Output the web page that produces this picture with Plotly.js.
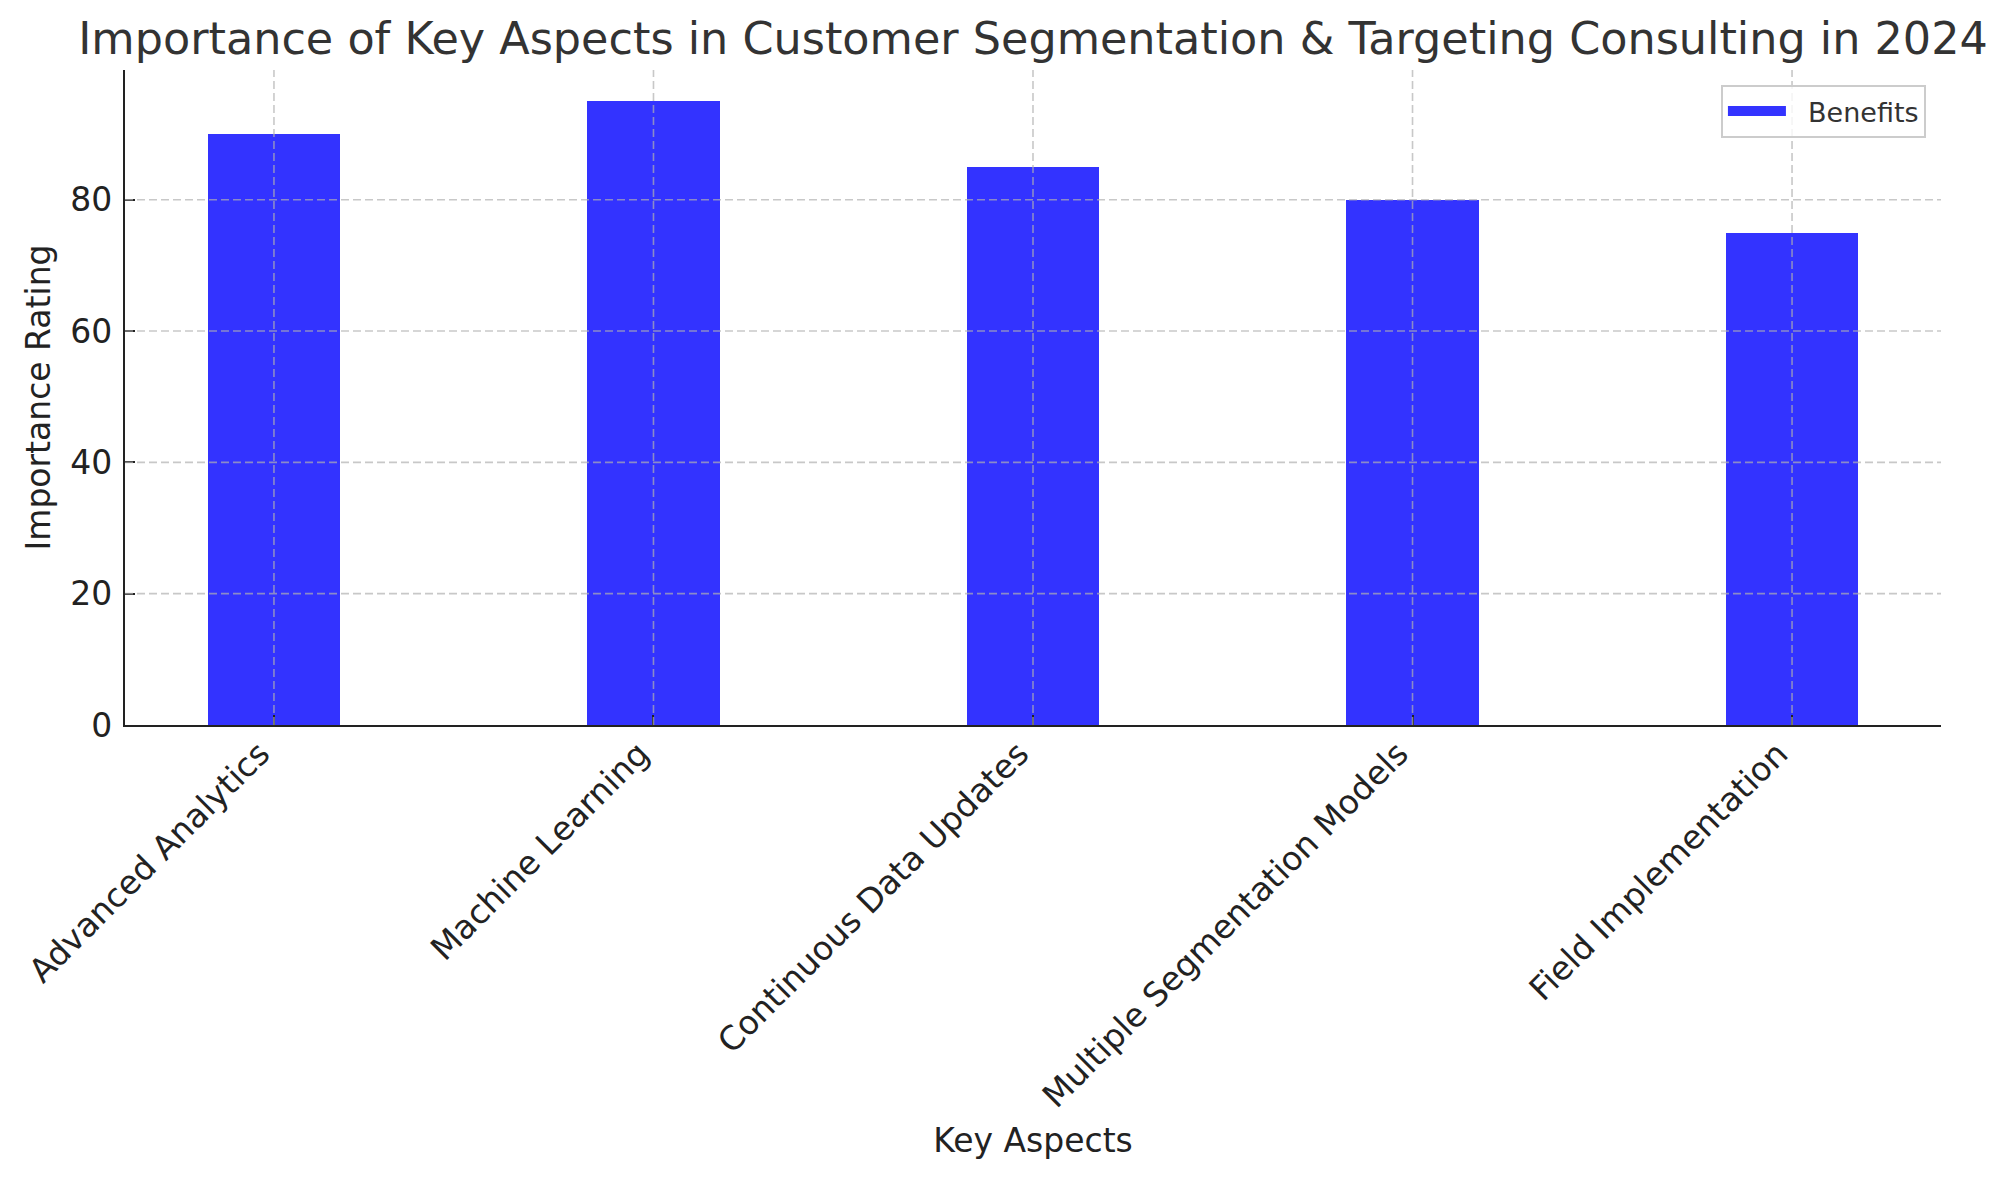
<!DOCTYPE html>
<html>
<head>
<meta charset="utf-8">
<script src="https://cdn.plot.ly/plotly-3.0.1.min.js"></script>
<style>
  html, body { margin: 0; padding: 0; background: #ffffff; }
  #chart { width: 2006px; height: 1180px; }
</style>
</head>
<body>
<div id="chart"></div>
<script>
// ---- data ----
const categories = ["Advanced Analytics", "Machine Learning", "Continuous Data Updates", "Multiple Segmentation Models", "Field Implementation"];
const benefits = [90, 95, 85, 80, 75];
const seriesName = "Benefits";
const yTickVals = [0, 20, 40, 60, 80];
const titleText = "Importance of Key Aspects in Customer Segmentation & Targeting Consulting in 2024";
const xTitle = "Key Aspects";
const yTitle = "Importance Rating";

// ---- styles ----
const FONT = "DejaVu Sans, Verdana, sans-serif";
const barColor = "rgba(0,0,255,0.8)";
const gridColor = "rgba(176,176,176,0.7)";
const gridDash = "8px,4px";
const axisColor = "#222222";

const trace = {
  type: "bar",
  x: categories,
  y: benefits,
  name: seriesName,
  width: 0.35,
  marker: { color: barColor, line: { width: 0 } },
  showlegend: false,
  legendgroup: "benefits",
  hoverinfo: "x+y"
};

// legend entry with a wide rectangular swatch (like the reference's legend patch)
const legendProxy = {
  type: "scatter",
  mode: "lines",
  x: [null],
  y: [null],
  name: "\u00A0\u00A0" + seriesName,
  legendgroup: "benefits",
  line: { color: barColor, width: 20 },
  hoverinfo: "skip",
  showlegend: true
};

// grid lines drawn above the bars (as in the reference)
const shapes = [];
yTickVals.slice(1).forEach(v => {
  shapes.push({ type: "line", xref: "paper", yref: "y", x0: 0, x1: 1, y0: v, y1: v,
    layer: "above", line: { color: gridColor, width: 1.6, dash: gridDash } });
});
categories.forEach(c => {
  shapes.push({ type: "line", xref: "x", yref: "paper", x0: c, x1: c, y0: 0, y1: 1,
    layer: "above", line: { color: gridColor, width: 1.6, dash: gridDash } });
});

const n = categories.length;
const half = 0.35 / 2;
const span = (n - 1) + 2 * half;
const xRange = [-half - 0.05 * span, (n - 1) + half + 0.05 * span];
const yMax = Math.max(...benefits) * 1.05;

const layout = {
  width: 2006,
  height: 1180,
  paper_bgcolor: "#ffffff",
  plot_bgcolor: "#ffffff",
  margin: { l: 125, r: 65, t: 70, b: 455, pad: 0 },
  font: { family: FONT, size: 33, color: axisColor },
  title: {
    text: titleText,
    font: { family: FONT, size: 44.5, color: "#333333" },
    x: 0.5, xref: "paper", xanchor: "center",
    y: 1 - 38 / 1180, yref: "container", yanchor: "middle"
  },
  xaxis: {
    type: "category",
    range: xRange,
    showgrid: false,
    zeroline: false,
    showline: true, linecolor: axisColor, linewidth: 2.2, mirror: false,
    ticks: "inside", ticklen: 10, tickwidth: 2, tickcolor: axisColor,
    tickangle: -45,
    tickfont: { family: FONT, size: 33, color: axisColor },
    ticklabelstandoff: -6,
    ticklabelshift: -14,
    title: { text: xTitle, font: { family: FONT, size: 33, color: axisColor }, standoff: 15 },
    automargin: false
  },
  yaxis: {
    range: [0, yMax],
    tickvals: yTickVals,
    ticktext: yTickVals.map(String),
    showgrid: false,
    zeroline: false,
    showline: true, linecolor: axisColor, linewidth: 2.2, mirror: false,
    ticks: "inside", ticklen: 10, tickwidth: 2, tickcolor: axisColor,
    tickfont: { family: FONT, size: 33, color: axisColor },
    ticklabelstandoff: 4,
    title: { text: yTitle, font: { family: FONT, size: 33, color: axisColor }, standoff: 10 },
    automargin: false
  },
  legend: {
    x: 0.9917, xanchor: "right", y: 0.977, yanchor: "top",
    bgcolor: "rgba(255,255,255,0.8)",
    bordercolor: "#cccccc", borderwidth: 2,
    itemwidth: 58,
    font: { family: FONT, size: 27, color: "#333333" }
  },
  shapes: shapes,
  bargap: 0
};

Plotly.newPlot("chart", [trace, legendProxy], layout, { displayModeBar: false, responsive: false });
</script>
</body>
</html>
